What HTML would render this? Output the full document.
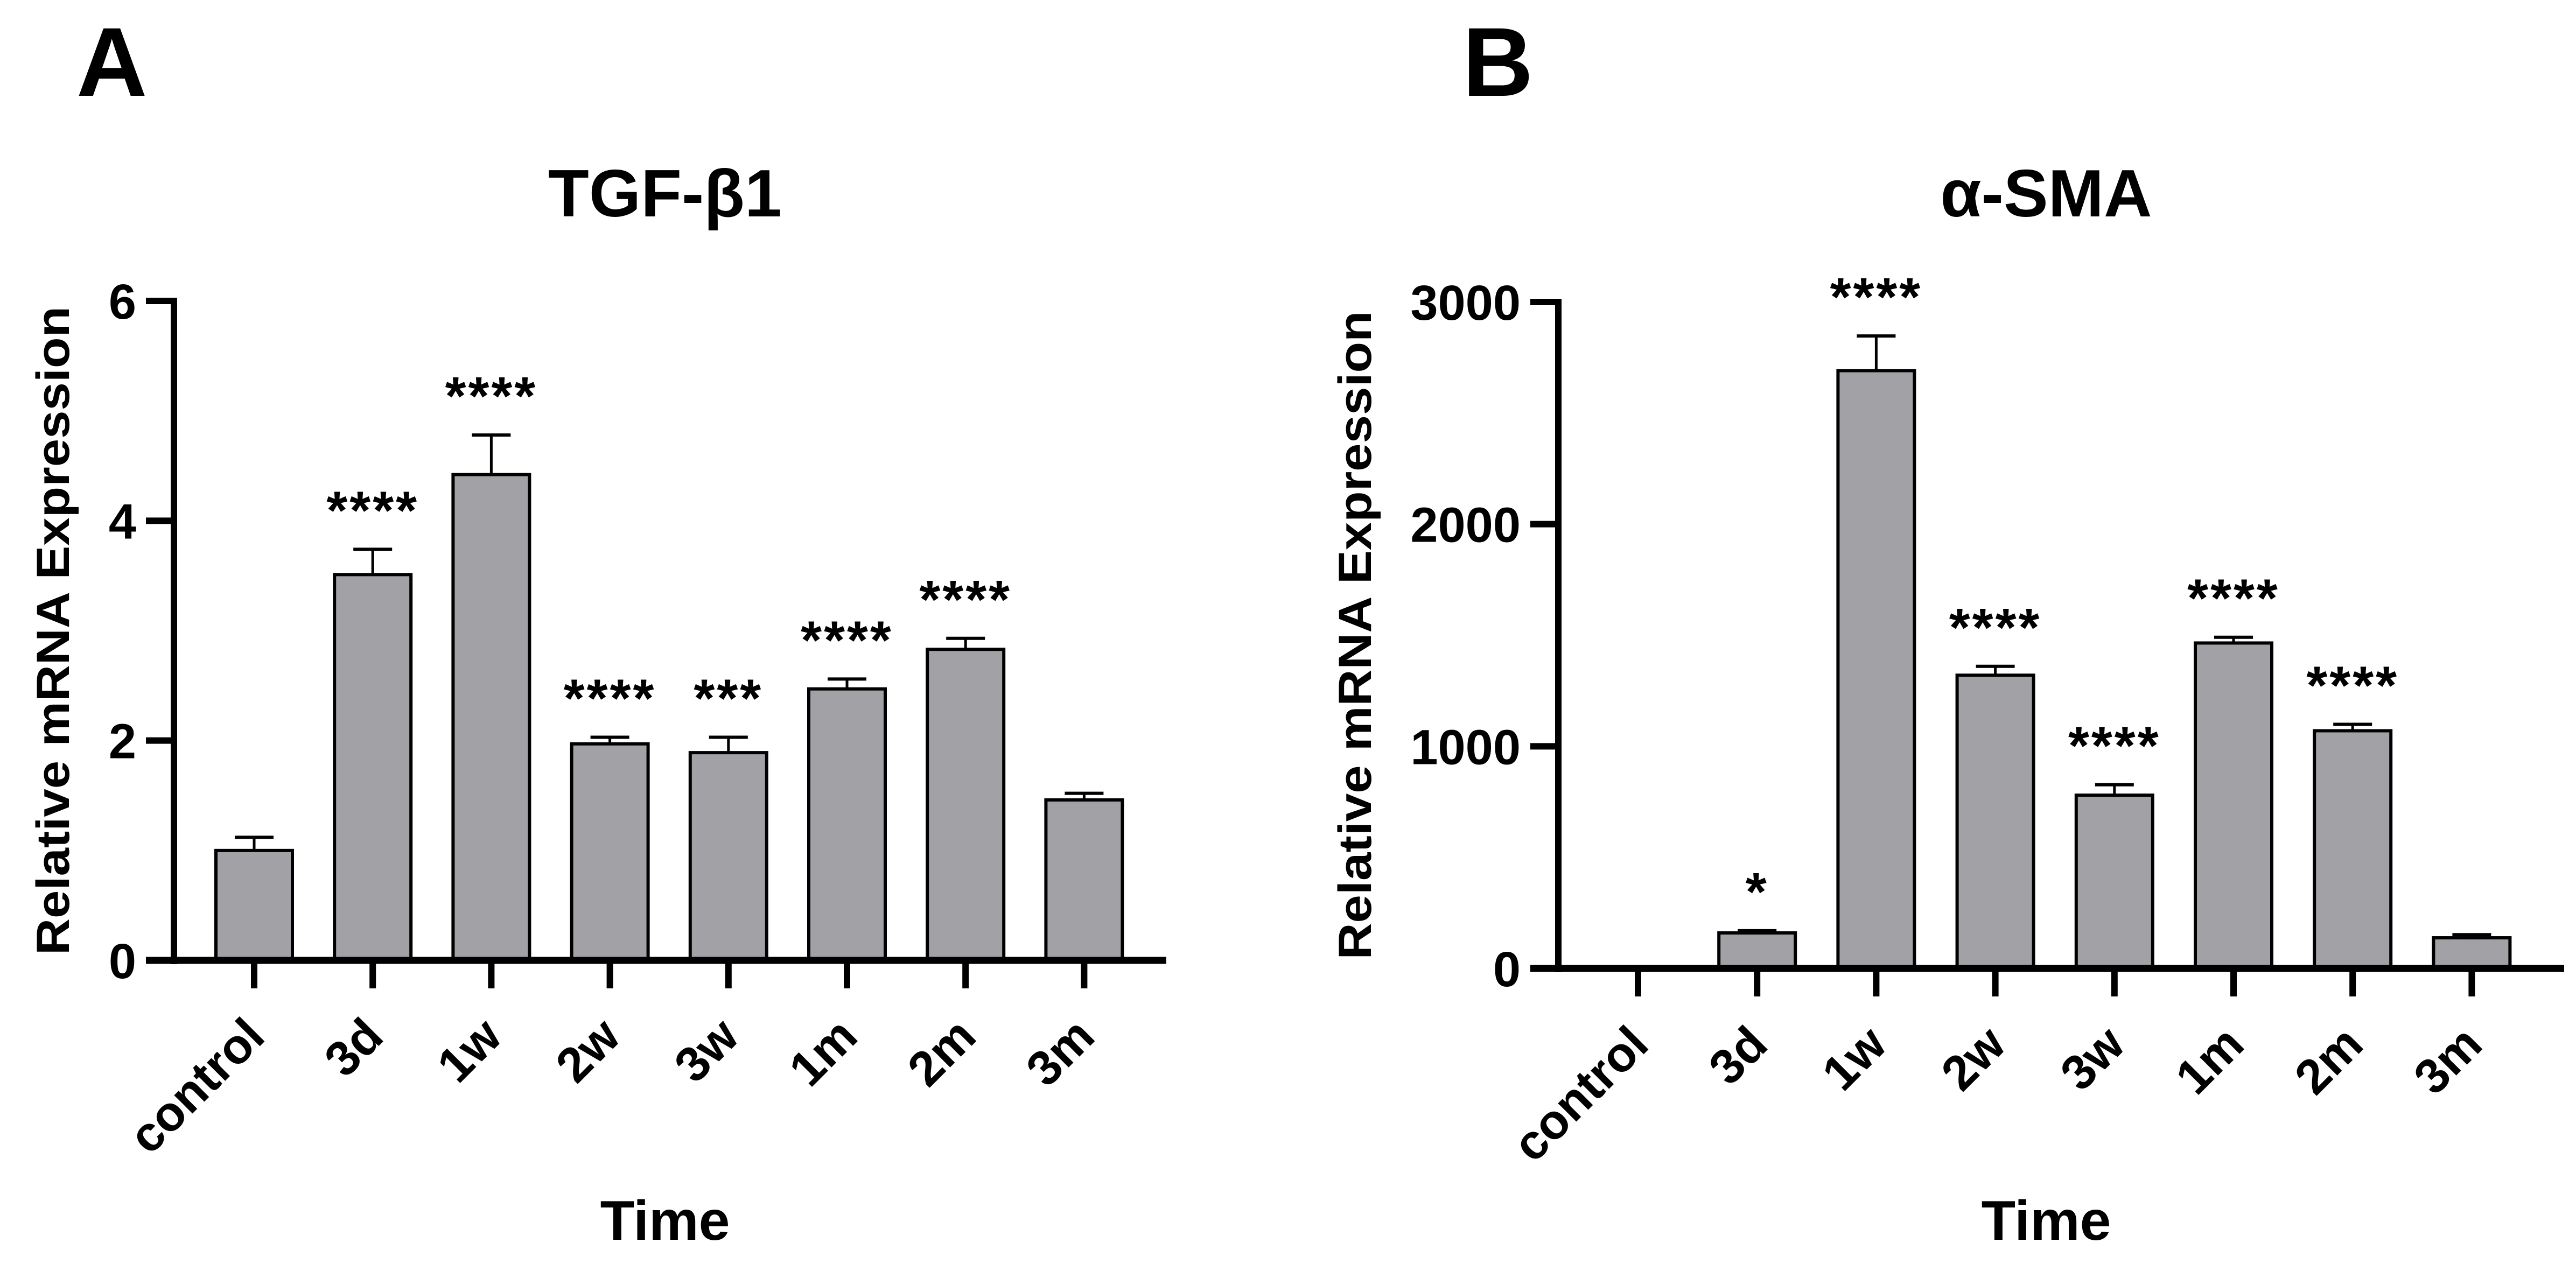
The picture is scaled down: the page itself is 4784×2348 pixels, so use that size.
<!DOCTYPE html>
<html><head><meta charset="utf-8"><style>
html,body{margin:0;padding:0;background:#fff;}
svg{display:block;}
text{font-family:"Liberation Sans",Arial,sans-serif;font-weight:bold;fill:#000;}
</style></head><body>
<svg id="fig" width="4784" height="2348" viewBox="0 0 4784 2348" xmlns="http://www.w3.org/2000/svg">
<rect width="4784" height="2348" fill="#fff"/>
<text x="142" y="178" font-size="182">A</text>
<text x="2716" y="178" font-size="182">B</text>
</svg>
<script>
const categories = ["control","3d","1w","2w","3w","1m","2m","3m"];
const tgfValues = [1.0, 3.51, 4.42, 1.97, 1.89, 2.47, 2.83, 1.46];
const tgfErrors = [0.12, 0.23, 0.36, 0.06, 0.14, 0.09, 0.10, 0.06];
const tgfSig = ["", "****", "****", "****", "***", "****", "****", ""];
const tgfTicks = [0, 2, 4, 6];
const smaValues = [1, 160, 2691, 1320, 780, 1465, 1070, 138];
const smaErrors = [0, 10, 156, 40, 47, 26, 29, 14];
const smaSig = ["", "*", "****", "****", "****", "****", "****", ""];
const smaTicks = [0, 1000, 2000, 3000];

const NS = "http://www.w3.org/2000/svg";
const svg = document.getElementById("fig");
function mk(tag, attrs, parent) {
  const e = document.createElementNS(NS, tag);
  for (const k in attrs) e.setAttribute(k, attrs[k]);
  (parent || svg).appendChild(e);
  return e;
}

function drawChart(cfg, values, errors, sig, ticks) {
  const g = mk("g", {});
  
  
  const y = v => cfg.y0 - (v / cfg.ymax) * (cfg.y0 - cfg.yTop);
  const x = i => cfg.x0 + i * cfg.step;
  const bw = 142;
  // bars
  values.forEach((v, i) => {
    const top = y(v);
    const eTop = y(v + errors[i]);
    if (errors[i] > 0) {
      const el = mk("line", {x1: x(i), x2: x(i), y1: top, y2: eTop, stroke: "#000", "stroke-width": 5}, g);
      
      
      const cap = mk("line", {x1: x(i) - 36, x2: x(i) + 36, y1: eTop, y2: eTop, stroke: "#000", "stroke-width": 6}, g);
      
      
    }
    const h = cfg.y0 - top;
    if (h > 1) {
      const r = mk("rect", {x: x(i) - bw / 2, y: top, width: bw, height: h, fill: "#a2a1a6", stroke: "#000", "stroke-width": 6}, g);
      
      
    }
    if (sig[i]) {
      const t = mk("text", {x: x(i), y: eTop - 38, "font-size": 100, "font-weight": "normal", "text-anchor": "middle", "letter-spacing": 4}, g);
      t.textContent = sig[i];
      
      
    }
  });
  // y axis
  const ya = mk("line", {x1: cfg.ax, x2: cfg.ax, y1: cfg.yTop - 6, y2: cfg.y0 + 7, stroke: "#000", "stroke-width": 12}, g);
  
  
  ticks.forEach(t => {
    const l = mk("line", {x1: cfg.ax - 52, x2: cfg.ax, y1: y(t), y2: y(t), stroke: "#000", "stroke-width": 12}, g);
    
    
    const tx = mk("text", {x: cfg.ax - 70, y: y(t) + 33, "font-size": 92, "text-anchor": "end"}, g);
    tx.textContent = t;
    
    
  });
  // x axis
  const xa = mk("line", {x1: cfg.ax - 52, x2: cfg.xEnd, y1: cfg.y0, y2: cfg.y0, stroke: "#000", "stroke-width": 13}, g);
  
  
  categories.forEach((c, i) => {
    const l = mk("line", {x1: x(i), x2: x(i), y1: cfg.y0, y2: cfg.y0 + 52, stroke: "#000", "stroke-width": 12}, g);
    
    
    const ax = x(i) + 24, ay = cfg.y0 + 146;
    const tx = mk("text", {x: ax, y: ay, "font-size": 91, "text-anchor": "end", transform: "rotate(-45 " + ax + " " + ay + ")"}, g);
    tx.textContent = c;
    
    
  });
  const title = mk("text", {x: cfg.titleX, y: 402, "font-size": 124, "text-anchor": "middle"}, g);
  title.textContent = cfg.title;
  
  
  const xt = mk("text", {x: cfg.titleX, y: 2303, "font-size": 104, "text-anchor": "middle"}, g);
  xt.textContent = "Time";
  
  
  const yx = cfg.ytX, yy = (cfg.y0 + cfg.yTop) / 2;
  const yt = mk("text", {x: yx, y: yy, "font-size": 86, "text-anchor": "middle", textLength: 1205, lengthAdjust: "spacingAndGlyphs", transform: "rotate(-90 " + yx + " " + yy + ")"}, g);
  yt.textContent = "Relative mRNA Expression";
  
  
}

drawChart({id: "tgf-b1", title: "TGF-β1", ax: 323, y0: 1784, yTop: 559, ymax: 6, x0: 472, step: 220.2, xEnd: 2166, titleX: 1235, ytX: 128},
  tgfValues, tgfErrors, tgfSig, tgfTicks);
drawChart({id: "a-sma", title: "α-SMA", ax: 2894, y0: 1799, yTop: 561, ymax: 3000, x0: 3042, step: 221.2, xEnd: 4762, titleX: 3800, ytX: 2546},
  smaValues, smaErrors, smaSig, smaTicks);
</script>
</body></html>
